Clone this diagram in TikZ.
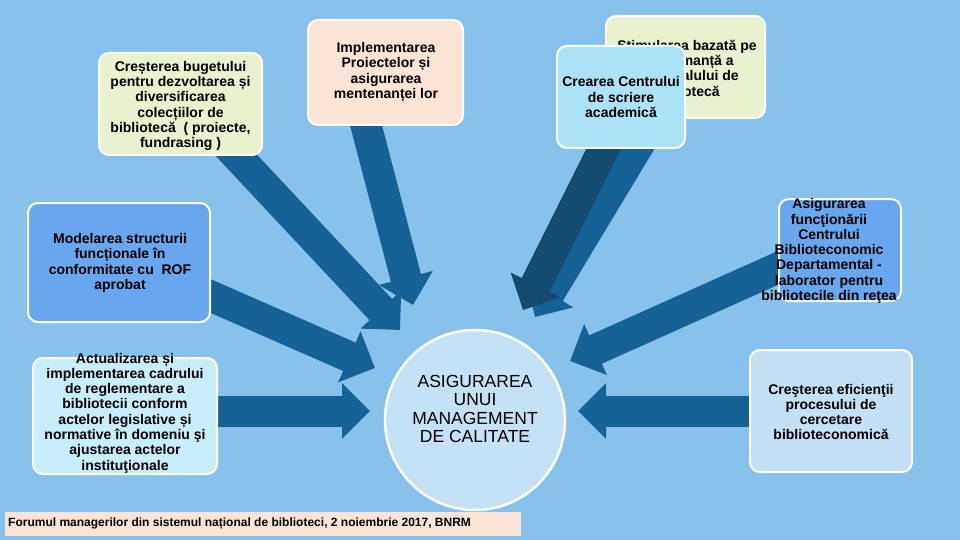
\documentclass[tikz,border=0pt]{standalone}
\usepackage{fontspec}
\setmainfont{Liberation Sans}
\usetikzlibrary{arrows.meta}
\definecolor{bg}{RGB}{134,194,236}
\definecolor{arrowblue}{RGB}{22,98,150}
\definecolor{arrowdark}{RGB}{19,74,112}
\definecolor{lgreen}{RGB}{232,242,206}
\definecolor{peach}{RGB}{252,228,214}
\definecolor{cyanbox}{RGB}{172,226,246}
\definecolor{midblue}{RGB}{104,166,238}
\definecolor{palecyan}{RGB}{200,238,252}
\definecolor{paleblue}{RGB}{197,224,244}
\definecolor{corefill}{RGB}{197,225,245}
\begin{document}
\begin{tikzpicture}[x=1pt,y=-1pt,
  panel/.style={draw=white, line width=2pt, rounded corners=10pt, inner sep=0pt, outer sep=0pt},
  boxtext/.style={align=center, font=\fontsize{14}{15.3}\selectfont\bfseries, text=black, inner sep=0pt},
  bigarrow/.style={draw=arrowblue, line width=31pt, -{Triangle[length=28pt,width=54pt]}},
]
\fill[bg] (0,0) rectangle (960,540);
\useasboundingbox (0,0) rectangle (960,540);

% arrow end points
\coordinate (sA) at (222,140);  \coordinate (eA) at (400,330);
\coordinate (sB) at (362,110);  \coordinate (eB) at (413,305);
\coordinate (sC) at (190,287);  \coordinate (eC) at (375,368);
\coordinate (sE) at (200,411);  \coordinate (eE) at (370,411);
\coordinate (sF) at (800,411);  \coordinate (eF) at (578,411);
\coordinate (sD) at (800,258);  \coordinate (eD) at (570,361);
\coordinate (sS) at (690,60);   \coordinate (eS) at (535,317);
\coordinate (sK) at (628,100);  \coordinate (eK) at (523,310);

% block arrows
\draw[bigarrow] (sS) -- (eS);
\draw[bigarrow, draw=arrowdark] (sK) -- (eK);
\draw[bigarrow] (sA) -- (eA);
\draw[bigarrow] (sB) -- (eB);
\draw[bigarrow] (sC) -- (eC);
\draw[bigarrow] (sE) -- (eE);
\draw[bigarrow] (sF) -- (eF);
\draw[bigarrow] (sD) -- (eD);

% boxes
\node[panel, fill=lgreen, minimum width=163pt, minimum height=102pt] (b1) at (180.5,104) {};
\node[boxtext] (t1) at (180.5,106) {Creșterea bugetului\\pentru dezvoltarea și\\diversificarea\\colecțiilor de\\bibliotecă\ \ ( proiecte,\\fundrasing )};

\node[panel, fill=peach, minimum width=155pt, minimum height=105pt] (b2) at (385.5,72.5) {};
\node[boxtext] (t2) at (386,72) {Implementarea\\Proiectelor și\\asigurarea\\mentenanței lor};

\node[panel, fill=lgreen, minimum width=159pt, minimum height=102pt] (b3) at (685.5,67) {};
\node[boxtext] (t3) at (687,68) {Stimularea bazată pe\\performanță a\\personalului de\\bibliotecă};

\node[panel, fill=cyanbox, minimum width=128pt, minimum height=102pt] (b4) at (621,97) {};
\node[boxtext] (t4) at (621,97) {Crearea Centrului\\de scriere\\academică};

\node[panel, fill=midblue, minimum width=182pt, minimum height=119pt] (b5) at (119,262.5) {};
\node[boxtext] (t5) at (120,263) {Modelarea structurii\\funcționale în\\conformitate cu\ \ ROF\\aprobat};

\node[panel, fill=midblue, minimum width=122pt, minimum height=102pt] (b6) at (840,250) {};
\node[boxtext] (t6) at (829,251) {Asigurarea\\funcţionării\\Centrului\\Biblioteconomic\\Departamental -\\laborator pentru\\bibliotecile din reţea};

\node[panel, fill=palecyan, minimum width=184pt, minimum height=116pt] (b7) at (125,416) {};
\node[boxtext] (t7) at (125,413) {Actualizarea și\\implementarea cadrului\\de reglementare a\\bibliotecii conform\\actelor legislative și\\normative în domeniu şi\\ajustarea actelor\\instituţionale};

\node[panel, fill=paleblue, minimum width=162pt, minimum height=122pt] (b8) at (831,411) {};
\node[boxtext] (t8) at (831,412) {Creşterea eficienţii\\procesului de\\cercetare\\biblioteconomică};

% centre circle
\node[circle, draw=white, line width=2.5pt, fill=corefill, minimum size=180pt, inner sep=0pt] (core) at (475,420) {};
\node[align=center, font=\fontsize{17.5}{18.5}\selectfont, inner sep=0pt] (coretext) at (475,409) {ASIGURAREA\\UNUI\\MANAGEMENT\\DE CALITATE};

% footer
\node[fill=peach, minimum width=516pt, minimum height=24pt, inner sep=0pt] (foot) at (263,524) {};
\node[anchor=west, font=\fontsize{12}{13}\selectfont\bfseries, inner sep=0pt] (foottext) at (8,524) {Forumul managerilor din sistemul național de biblioteci, 2 noiembrie 2017, BNRM};
\end{tikzpicture}
\end{document}
